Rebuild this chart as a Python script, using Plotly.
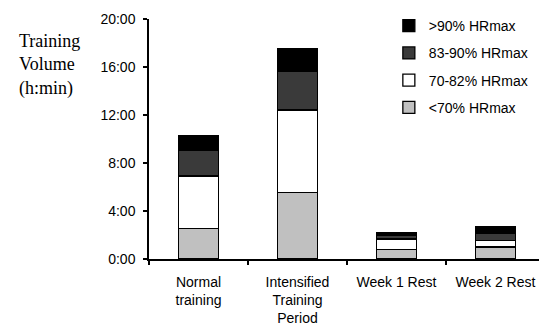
import plotly.graph_objects as go

categories = ["Normal<br>training", "Intensified<br>Training<br>Period", "Week 1 Rest", "Week 2 Rest"]
# hours per intensity zone (stacked)
below70 = [2.56, 5.53, 0.81, 1.00]
zone70_82 = [4.36, 6.89, 0.86, 0.56]
zone83_90 = [2.17, 3.25, 0.33, 0.58]
above90 = [1.17, 1.83, 0.22, 0.58]
series_names = ["<70% HRmax", "70-82% HRmax", "83-90% HRmax", ">90% HRmax"]
series_colors = ["#c0c0c0", "#ffffff", "#3a3a3a", "#000000"]
ytick_vals = [0, 4, 8, 12, 16, 20]
ytick_text = ["0:00", "4:00", "8:00", "12:00", "16:00", "20:00"]

fig = go.Figure()
for i, (name, vals, col) in enumerate(zip(series_names, [below70, zone70_82, zone83_90, above90], series_colors)):
    fig.add_trace(go.Bar(
        x=categories, y=vals, name=name, legendgroup=name,
        legendrank=1000 - i,
        marker=dict(color=col, line=dict(color="#000000", width=1.3)),
        width=0.4,
    ))

fig.update_layout(
    width=539, height=329,
    barmode="stack",
    paper_bgcolor="white", plot_bgcolor="white",
    margin=dict(l=149, r=0, t=19, b=70, autoexpand=False),
    font=dict(family="Liberation Sans, Arial, sans-serif", size=14, color="#000000"),
    legend=dict(
        x=0.615, xanchor="left", y=1.037, yanchor="top",
        traceorder="grouped", tracegroupgap=6,
        font=dict(size=14), bgcolor="rgba(0,0,0,0)",
    ),
    xaxis=dict(
        range=[-0.5, 3.44], showline=True, linecolor="#000000", linewidth=1.5,
        ticks="outside", ticklen=4, tickcolor="#000000", tickwidth=1.5,
        tickson="boundaries", showgrid=False, zeroline=False,
        ticklabelstandoff=9, automargin=False,
    ),
    yaxis=dict(
        range=[0, 20], tickvals=ytick_vals, ticktext=ytick_text,
        showline=True, linecolor="#000000", linewidth=1.5,
        ticks="outside", ticklen=4, tickcolor="#000000", tickwidth=1.5,
        showgrid=False, zeroline=False, ticklabelstandoff=5, automargin=False,
    ),
    annotations=[dict(
        text="Training<br>Volume<br>(h:min)", xref="paper", yref="paper",
        x=-0.338, y=0.96, xanchor="left", yanchor="top", align="left",
        showarrow=False,
        font=dict(family="Liberation Serif, Times New Roman, serif", size=18, color="#000000"),
    )],
)

fig.write_html("out.html", config={"displayModeBar": False},
               post_script="document.body.style.margin='0';document.body.style.overflow='hidden';")
